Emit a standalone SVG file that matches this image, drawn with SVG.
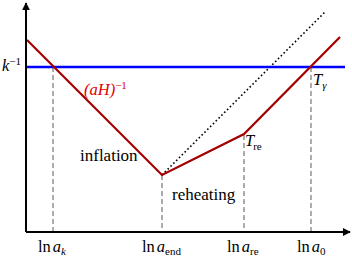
<svg xmlns="http://www.w3.org/2000/svg" width="352" height="261" viewBox="0 0 352 261">
<defs>
<marker id="ah" viewBox="0 0 10 10" refX="9" refY="5" markerWidth="8" markerHeight="8" markerUnits="userSpaceOnUse" orient="auto"><path d="M0,0 L10,5 L0,10 Z" fill="#000"/></marker>
</defs>
<style>
.it{font-style:italic}
.sub{font-size:11px}
.big{font-size:17px}
.dash{stroke:#999;stroke-width:1.6;stroke-dasharray:5,3;fill:none}
.red{stroke:#a50000;stroke-width:2.2;fill:none;stroke-linejoin:miter}
</style>
<rect width="352" height="261" fill="#fff"/>
<g id="connectors">
<line class="dash" x1="53" y1="67" x2="53" y2="232"/>
<line class="dash" x1="162" y1="175" x2="162" y2="232"/>
<line class="dash" x1="244" y1="135" x2="244" y2="232"/>
<line class="dash" x1="311" y1="67" x2="311" y2="232"/>
<line x1="162" y1="175" x2="326" y2="11" stroke="#000" stroke-width="1.6" stroke-dasharray="1.6,2.4"/>
<line x1="26" y1="67" x2="345" y2="67" stroke="#0000ff" stroke-width="2.5"/>
<polyline class="red" points="27,40 162,175 244,134 340,37"/>
<line x1="26" y1="232" x2="350" y2="232" stroke="#000" stroke-width="2" marker-end="url(#ah)"/>
<line x1="26" y1="232" x2="26" y2="3" stroke="#000" stroke-width="2" marker-end="url(#ah)"/>
</g>
<g id="labels" font-family="Liberation Serif, Times New Roman, Times, serif" font-size="16.5" fill="#000">
<text x="2" y="71"><tspan class="it">k</tspan><tspan class="sub" dy="-6">−1</tspan></text>
<text x="84" y="95" fill="#e00000"><tspan class="it">(aH)</tspan><tspan class="sub" dy="-6">−1</tspan></text>
<text x="313" y="85"><tspan class="it">T</tspan><tspan class="it sub" dy="4">γ</tspan></text>
<text x="245" y="146"><tspan class="it">T</tspan><tspan class="sub" dy="4" dx="-1">re</tspan></text>
<text x="80" y="161" class="big">inflation</text>
<text x="172" y="200" class="big">reheating</text>
<text x="38" y="252">ln<tspan class="it" dx="2">a</tspan><tspan class="it sub" dy="3">k</tspan></text>
<text x="142" y="252">ln<tspan class="it" dx="2">a</tspan><tspan class="sub" dy="3">end</tspan></text>
<text x="227" y="252">ln<tspan class="it" dx="2">a</tspan><tspan class="sub" dy="3">re</tspan></text>
<text x="297" y="252">ln<tspan class="it" dx="2">a</tspan><tspan class="sub" dy="3">0</tspan></text>
</g>
</svg>
